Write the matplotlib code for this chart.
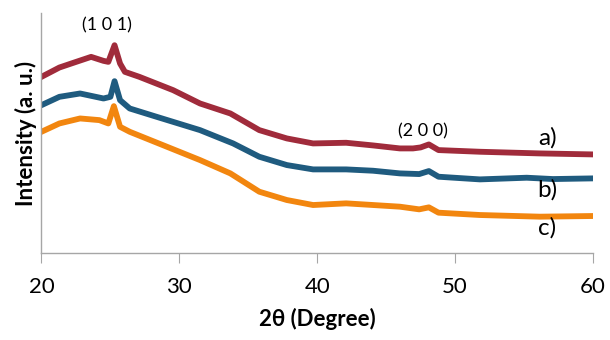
import matplotlib.pyplot as plt
import numpy as np

plt.rcParams['font.family'] = ['Lato', 'DejaVu Sans']

# 2theta positions (degree) and intensities (arbitrary units)
x_a = [20.0, 21.3, 22.3, 23.6, 24.5, 24.85, 25.3, 25.7, 26.05, 27.1, 29.55, 31.5, 33.7,
       35.8, 37.8, 39.7, 42.1, 44.05, 46.0, 46.95, 47.5, 48.1, 48.8, 51.8, 56.15, 60.0]
y_a = [530, 558, 572, 590, 578, 575, 625, 570, 545, 530, 490, 450, 420,
       370, 345, 330, 332, 324, 315, 315, 318, 327, 310, 305, 300, 297]

x_b = [20.0, 21.3, 22.8, 24.5, 25.0, 25.3, 25.7, 26.4, 28.35, 31.5, 33.9, 35.8, 37.8,
       39.7, 42.1, 44.05, 46.0, 47.4, 48.1, 48.8, 51.8, 55.2, 57.1, 60.0]
y_b = [445, 470, 480, 465, 470, 517, 460, 435, 410, 370, 330, 290, 265,
       252, 252, 248, 240, 238, 247, 230, 222, 227, 223, 225]

x_c = [20.0, 21.3, 22.8, 24.2, 24.85, 25.25, 25.7, 26.4, 29.1, 31.5, 33.7, 35.8, 37.8,
       39.7, 42.1, 44.05, 46.0, 47.4, 48.1, 48.8, 51.8, 56.15, 60.0]
y_c = [365, 390, 405, 400, 390, 442, 380, 365, 320, 280, 240, 185, 160,
       145, 150, 145, 140, 132, 138, 122, 115, 110, 112]

series = [(x_a, y_a, '#A02B3B', 'a)'),
          (x_b, y_b, '#1F5B7F', 'b)'),
          (x_c, y_c, '#F2860F', 'c)')]
label_y = [346, 190, 76]

fig = plt.figure(figsize=(6.1, 3.4), dpi=100)
ax = fig.add_axes([0.068, 0.255, 0.904, 0.707])

for (xs, ys, col, lab), ly in zip(series, label_y):
    ax.plot(xs, ys, color=col, lw=4.2, solid_joinstyle='round')
    ax.text(56.7, ly, lab, fontsize=17.5, ha='center', va='center')

ax.text(24.75, 685, '(1 0 1)', fontsize=13, ha='center', va='center')
ax.text(47.7, 365, '(2 0 0)', fontsize=13, ha='center', va='center')

ax.set_xlim(20, 60)
ax.set_ylim(0, 722)
ax.set_xticks([20, 30, 40, 50, 60])
ax.set_yticks([])
ax.tick_params(axis='x', labelsize=16, length=7, color='#a6a6a6', direction='out', pad=10)
for s in ['top', 'right']:
    ax.spines[s].set_visible(False)
for s in ['left', 'bottom']:
    ax.spines[s].set_color('#a6a6a6')
    ax.spines[s].set_linewidth(1.0)

ax.set_xlabel('2θ (Degree)', fontsize=16, fontweight='bold', labelpad=8)
ax.set_ylabel('Intensity (a. u.)', fontsize=16, fontweight='bold', labelpad=3)

fig.savefig('out.png', dpi=100)
